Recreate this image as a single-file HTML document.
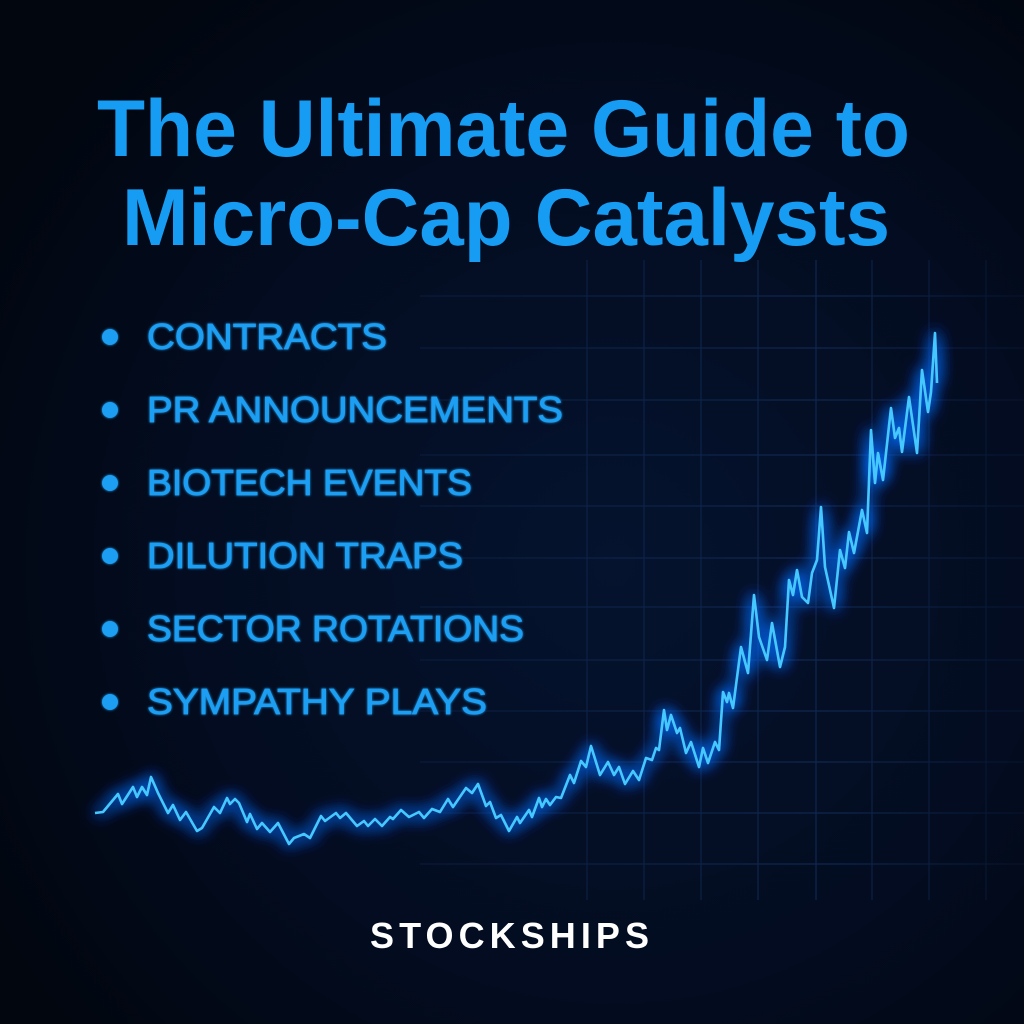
<!DOCTYPE html>
<html><head><meta charset="utf-8"><style>
html,body{margin:0;padding:0;background:#020a1a;}
svg{display:block}
</style></head><body>
<svg width="1024" height="1024" viewBox="0 0 1024 1024" xmlns="http://www.w3.org/2000/svg">
<defs>
<radialGradient id="bg" cx="0.6" cy="0.55" r="0.7">
<stop offset="0" stop-color="#05132e"/>
<stop offset="0.6" stop-color="#030c20"/>
<stop offset="1" stop-color="#01060f"/>
</radialGradient>
<linearGradient id="gridfade" x1="0" y1="0" x2="1" y2="0">
<stop offset="0" stop-color="#fff" stop-opacity="0"/>
<stop offset="0.35" stop-color="#fff" stop-opacity="0.4"/>
<stop offset="0.8" stop-color="#fff" stop-opacity="1"/>
<stop offset="1" stop-color="#fff" stop-opacity="0.3"/>
</linearGradient>
<mask id="gm"><rect x="0" y="0" width="1024" height="1024" fill="url(#gridfade)"/></mask>
<filter id="glow" x="-20%" y="-20%" width="140%" height="140%">
<feGaussianBlur in="SourceGraphic" stdDeviation="8" result="b"/>
<feFlood flood-color="#0a6cff"/><feComposite in2="b" operator="in" result="c"/>
<feMerge><feMergeNode in="c"/><feMergeNode in="c"/><feMergeNode in="c"/><feMergeNode in="SourceGraphic"/></feMerge>
</filter>
<filter id="tg"><feGaussianBlur stdDeviation="1.2" result="b"/><feMerge><feMergeNode in="b"/><feMergeNode in="SourceGraphic"/></feMerge></filter>
</defs>
<rect width="1024" height="1024" fill="url(#bg)"/>
<g mask="url(#gm)" stroke="#15305f" stroke-width="1.2" opacity="0.75">
<line x1="644" y1="260" x2="644" y2="900"/>
<line x1="701" y1="260" x2="701" y2="900"/>
<line x1="758" y1="260" x2="758" y2="900"/>
<line x1="816" y1="260" x2="816" y2="900"/>
<line x1="872" y1="260" x2="872" y2="900"/>
<line x1="929" y1="260" x2="929" y2="900"/>
<line x1="986" y1="260" x2="986" y2="900"/>
<line x1="587" y1="260" x2="587" y2="900"/>
<line x1="420" y1="296" x2="1024" y2="296"/>
<line x1="420" y1="348" x2="1024" y2="348"/>
<line x1="420" y1="400" x2="1024" y2="400"/>
<line x1="420" y1="455" x2="1024" y2="455"/>
<line x1="420" y1="506" x2="1024" y2="506"/>
<line x1="420" y1="558" x2="1024" y2="558"/>
<line x1="420" y1="607" x2="1024" y2="607"/>
<line x1="420" y1="660" x2="1024" y2="660"/>
<line x1="420" y1="711" x2="1024" y2="711"/>
<line x1="420" y1="762" x2="1024" y2="762"/>
<line x1="420" y1="813" x2="1024" y2="813"/>
<line x1="420" y1="864" x2="1024" y2="864"/>
</g>
<g font-family="Liberation Sans, Arial, sans-serif" font-weight="bold" fill="#169cf2">
<text x="97" y="156" font-size="81" textLength="813" lengthAdjust="spacingAndGlyphs">The Ultimate Guide to</text>
<text x="122" y="245" font-size="81" textLength="768" lengthAdjust="spacingAndGlyphs">Micro-Cap Catalysts</text>
</g>
<g fill="#1e9ef2" filter="url(#tg)">
<circle cx="110" cy="337" r="8"/><circle cx="110" cy="410" r="8"/><circle cx="110" cy="483" r="8"/>
<circle cx="110" cy="556" r="8"/><circle cx="110" cy="629" r="8"/><circle cx="110" cy="702" r="8"/>
</g>
<g font-family="Liberation Sans, Arial, sans-serif" fill="#1e9ef2" font-size="36" stroke="#1e9ef2" stroke-width="0.8" filter="url(#tg)">
<text x="147" y="349" textLength="240" lengthAdjust="spacingAndGlyphs">CONTRACTS</text>
<text x="147" y="422" textLength="416" lengthAdjust="spacingAndGlyphs">PR ANNOUNCEMENTS</text>
<text x="147" y="495" textLength="325" lengthAdjust="spacingAndGlyphs">BIOTECH EVENTS</text>
<text x="147" y="568" textLength="316" lengthAdjust="spacingAndGlyphs">DILUTION TRAPS</text>
<text x="147" y="641" textLength="377" lengthAdjust="spacingAndGlyphs">SECTOR ROTATIONS</text>
<text x="147" y="714" textLength="340" lengthAdjust="spacingAndGlyphs">SYMPATHY PLAYS</text>
</g>
<polyline filter="url(#glow)" fill="none" stroke="#45c8ff" stroke-width="2.6" stroke-linejoin="round" points="95,813 103,812 118,794 122,804 133,787 137,797 142,787 147,795 151,777 158,793 168,813 173,805 180,820 186,812 197,831 202,828 214,807 220,813 227,798 230,804 235,799 239,803 247,822 250,814 257,829 262,823 270,832 278,823 289,844 294,838 304,834 310,838 321,816 325,821 336,813 340,818 346,813 357,826 364,821 368,826 375,819 382,826 390,817 393,819 401,810 409,817 419,812 424,818 432,809 440,812 448,799 453,807 466,788 472,793 478,784 486,806 490,802 496,818 501,815 509,831 517,817 520,823 529,810 532,817 539,798 542,807 546,799 550,805 556,797 561,798 570,775 574,783 581,761 586,767 591,746 600,775 608,762 614,775 619,767 625,784 633,771 639,780 646,758 652,760 656,748 659,750 664,710 667,730 671,715 677,733 680,728 686,753 691,742 699,767 703,748 708,763 715,742 719,750 723,692 727,702 729,693 733,708 741,647 748,673 754,595 759,637 767,660 772,623 780,667 785,647 789,580 793,595 797,570 802,597 808,603 812,573 817,560 821,507 825,567 834,608 840,550 845,568 849,532 854,553 862,510 867,533 871,430 875,483 878,453 883,480 891,408 895,438 899,428 902,452 909,397 917,453 922,370 928,412 931,392 935,333 937,383"/>
<text x="511" y="948" text-anchor="middle" font-family="Liberation Sans, Arial, sans-serif" font-weight="bold" font-size="36" fill="#ffffff" letter-spacing="3" textLength="282" lengthAdjust="spacing">STOCKSHIPS</text>
</svg>
</body></html>
